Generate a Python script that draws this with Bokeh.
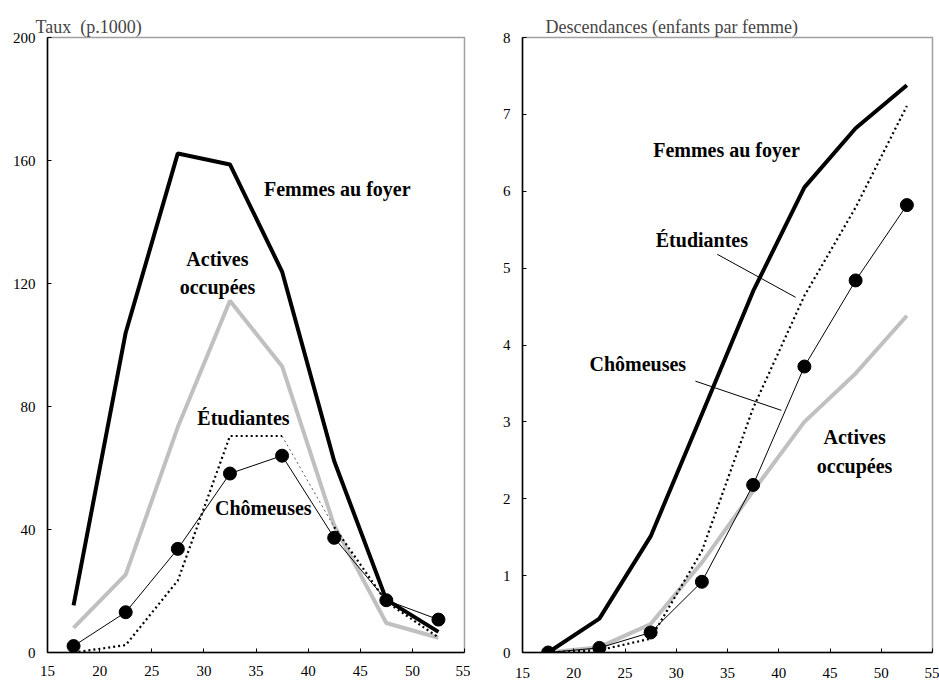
from bokeh.plotting import figure
from bokeh.layouts import row
from bokeh.models import Range1d, FixedTicker, Label
from bokeh.embed import file_html
from bokeh.resources import INLINE

# ---- data ----
ages = [17.5, 22.5, 27.5, 32.5, 37.5, 42.5, 47.5, 52.5]

# Left panel: taux (p.1000)
taux_foyer = [15.3, 104, 162.3, 158.7, 123.9, 62.3, 17.2, 6.7]
taux_actives = [8, 25.3, 73.3, 114.4, 93.1, 41.3, 9.6, 4.8]
taux_etudiantes = [0, 2.4, 23.4, 70.4, 70.4, 40.8, 16.5, 4.9]
taux_chomeuses = [2.1, 13.1, 33.7, 58.2, 64, 37.3, 17, 10.7]

# Right panel: descendances (enfants par femme)
desc_foyer = [0, 0.44, 1.51, 3.1, 4.7, 6.05, 6.82, 7.38]
desc_actives = [0, 0.07, 0.37, 1.17, 2.1, 3.0, 3.63, 4.38]
desc_etudiantes = [0, 0.03, 0.18, 1.32, 3.18, 4.64, 5.79, 7.11]
desc_chomeuses = [0, 0.06, 0.26, 0.92, 2.18, 3.72, 4.84, 5.82]

x_ticks = [15, 20, 25, 30, 35, 40, 45, 50, 55]
left_y_ticks = [0, 40, 80, 120, 160, 200]
right_y_ticks = [0, 1, 2, 3, 4, 5, 6, 7, 8]

left_title = "Taux\u00a0\u00a0(p.1000)"
right_title = "Descendances (enfants par femme)"

# annotation texts: (text, x, y)
left_labels = [("Femmes au foyer", 42.8, 150.7), ("Actives", 31.3, 128), ("occupées", 31.3, 119),
               ("Étudiantes", 33.8, 76.2), ("Chômeuses", 35.7, 47)]
right_labels = [("Femmes au foyer", 34.9, 6.54), ("Étudiantes", 32.5, 5.37), ("Chômeuses", 26.25, 3.75),
                ("Actives", 47.4, 2.80), ("occupées", 47.4, 2.42)]
right_leaders_x0 = [34.0, 31.87]
right_leaders_y0 = [5.18, 3.53]
right_leaders_x1 = [41.65, 40.25]
right_leaders_y1 = [4.62, 3.15]

FONT = "Liberation Serif"
GRAY = "#c0c0c0"


def make_fig(width, height, yr, yticks, title, title_offset, mb_left, mb_right, mb_top, mb_bottom, x_standoff):
    p = figure(width=width, height=height, output_backend="svg", toolbar_location=None,
               x_range=Range1d(15, 55), y_range=Range1d(*yr),
               min_border_left=mb_left, min_border_right=mb_right,
               min_border_top=mb_top, min_border_bottom=mb_bottom)
    p.title.text = title
    p.title.align = "left"
    p.title.offset = title_offset
    p.title.text_font = FONT
    p.title.text_font_style = "normal"
    p.title.text_font_size = "18px"
    p.title.standoff = 2
    p.xgrid.visible = False
    p.ygrid.visible = False
    p.outline_line_color = "#a0a0a0"
    p.outline_line_width = 1.5
    p.xaxis.ticker = FixedTicker(ticks=x_ticks)
    p.yaxis.ticker = FixedTicker(ticks=yticks)
    for ax in (p.xaxis, p.yaxis):
        ax.axis_line_color = "black"
        ax.axis_line_width = 1.5
        ax.major_tick_in = 4
        ax.major_tick_out = 0
        ax.minor_tick_line_color = None
        ax.major_tick_line_color = "black"
        ax.major_label_text_font = FONT
        ax.major_label_text_font_size = "15px"
        ax.major_label_text_color = "black"
    p.xaxis.major_label_standoff = x_standoff
    p.yaxis.major_label_standoff = 12
    return p


def add_series(p, foyer, actives, etud, chom, thin_etud_segment=False):
    p.line(ages, actives, line_color=GRAY, line_width=4)
    p.line(ages, foyer, line_color="black", line_width=4)
    if thin_etud_segment:
        p.line(ages[:5], etud[:5], line_color="black", line_width=2.2, line_dash="2 3")
        p.line(ages[4:6], etud[4:6], line_color="#555555", line_width=1, line_dash="2 3")
        p.line(ages[5:], etud[5:], line_color="black", line_width=2.2, line_dash="2 3")
    else:
        p.line(ages, etud, line_color="black", line_width=2.2, line_dash="2 3")
    p.line(ages, chom, line_color="black", line_width=1)
    p.scatter(ages, chom, size=13, marker="circle", fill_color="black", line_color="black")


def add_labels(p, labels):
    for t, x, y in labels:
        p.add_layout(Label(x=x, y=y, text=t, text_font=FONT, text_font_style="bold",
                           text_font_size="20px", text_align="center", text_baseline="middle",
                           text_color="black"))


p1 = make_fig(470, 684, (0, 200), left_y_ticks, left_title, -12, 47, 6, 37, 30, 13)
add_series(p1, taux_foyer, taux_actives, taux_etudiantes, taux_chomeuses, thin_etud_segment=True)
add_labels(p1, left_labels)

p2 = make_fig(469, 684, (0, 8), right_y_ticks, right_title, 23, 52, 7, 34, 32, 15)
add_series(p2, desc_foyer, desc_actives, desc_etudiantes, desc_chomeuses)
add_labels(p2, right_labels)
p2.segment(x0=right_leaders_x0, y0=right_leaders_y0, x1=right_leaders_x1, y1=right_leaders_y1,
           line_color="black", line_width=1)

layout = row(p1, p2)
open("out.html", "w").write(file_html(layout, INLINE))
